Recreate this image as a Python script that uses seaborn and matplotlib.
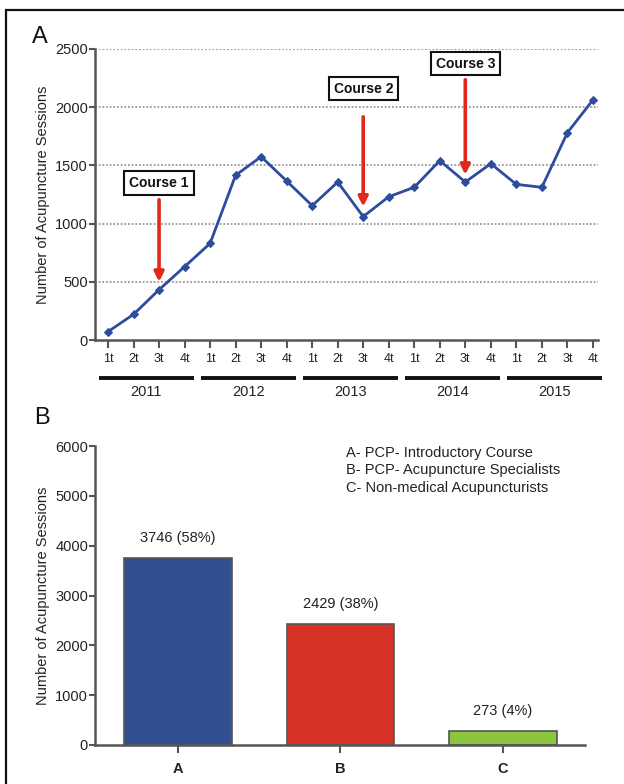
import matplotlib
matplotlib.use("Agg")
import matplotlib.pyplot as plt
import matplotlib.transforms as mtransforms
from matplotlib.patches import Rectangle
import seaborn as sns
import pandas as pd
import numpy as np

# ---- data ----
quarters = ["1t", "2t", "3t", "4t"]
years = ["2011", "2012", "2013", "2014", "2015"]
sessions = [72, 220, 432, 630,
            830, 1415, 1575, 1366,
            1154, 1357, 1060, 1231,
            1312, 1541, 1357, 1515,
            1337, 1312, 1781, 2062]
course_labels = ["Course 1", "Course 2", "Course 3"]
course_index = [2, 10, 14]
course_arrow_top = [1205, 1917, 2236]
course_arrow_tip = [500, 1146, 1420]
course_box_y = [1350, 2160, 2375]

groups = ["A", "B", "C"]
group_values = [3746, 2429, 273]
group_labels = ["3746 (58%)", "2429 (38%)", "273 (4%)"]
group_names = ["A- PCP- Introductory Course",
               "B- PCP- Acupuncture Specialists",
               "C- Non-medical Acupuncturists"]
group_colors = ["#324F92", "#D63226", "#8CC63F"]

sns.set_style("ticks")
plt.rcParams["font.family"] = ["Liberation Sans", "DejaVu Sans"]

W, H = 624, 784
fig = plt.figure(figsize=(W / 100, H / 100), dpi=100)

def ax_rect(l, r, t, b):
    return [l / W, 1 - b / H, (r - l) / W, (b - t) / H]

spine_col = "#555555"
text_col = "#222222"

# ---- Panel A ----
axA = fig.add_axes(ax_rect(95, 598, 49, 340))
dfA = pd.DataFrame({"idx": np.arange(len(sessions)), "sessions": sessions})
sns.lineplot(data=dfA, x="idx", y="sessions", ax=axA, color="#2E4C9E",
             marker="D", markersize=4.5, markeredgecolor="#2E4C9E", lw=2.0)
axA.set_xlim(-0.51, 19.2)
axA.set_ylim(0, 2500)
axA.set_yticks([0, 500, 1000, 1500, 2000, 2500])
axA.set_xticks(np.arange(len(sessions)))
axA.set_xticklabels(quarters * len(years))
for yv in [500, 1000, 1500, 2000, 2500]:
    axA.axhline(yv, color="#888888", lw=1.1, ls=(0, (1.2, 1.2)), zorder=0)
axA.set_xlabel("")
axA.set_ylabel("Number of Acupuncture Sessions", fontsize=10.5, color=text_col, labelpad=4)
for s in ["top", "right"]:
    axA.spines[s].set_visible(False)
for s in ["left", "bottom"]:
    axA.spines[s].set_color(spine_col)
    axA.spines[s].set_linewidth(1.8)
axA.tick_params(axis="x", colors=spine_col, labelcolor=text_col, labelsize=9, length=6, width=1.5, pad=3)
axA.tick_params(axis="y", colors=spine_col, labelcolor=text_col, labelsize=10.5, length=4, width=1.5, pad=1)

trA = mtransforms.blended_transform_factory(axA.transData, axA.transAxes)
for i, yr in enumerate(years):
    x0 = i * 4 - 0.35
    x1 = i * 4 + 3.35
    axA.plot([x0, x1], [-0.13, -0.13], transform=trA, color="#111111", lw=2.8,
             clip_on=False, solid_capstyle="butt")
    axA.text(i * 4 + 1.5, -0.18, yr, transform=trA, ha="center", va="center",
             fontsize=10.5, color=text_col)

for lab, xi, ytop, ytip, yb in zip(course_labels, course_index, course_arrow_top,
                                    course_arrow_tip, course_box_y):
    axA.annotate("", xy=(xi, ytip), xytext=(xi, ytop),
                 arrowprops=dict(arrowstyle="-|>", color="#E0281C", lw=2.6,
                                 mutation_scale=14, shrinkA=0, shrinkB=0))
    axA.text(xi, yb, lab, ha="center", va="center", fontsize=10, fontweight="bold",
             color="#111111",
             bbox=dict(boxstyle="square,pad=0.35", facecolor="white",
                       edgecolor="#111111", lw=1.5))

fig.text(40 / W, 1 - 37 / H, "A", fontsize=17, ha="center", va="center", color="#111111")

# ---- Panel B ----
axB = fig.add_axes(ax_rect(95, 585, 446, 745))
dfB = pd.DataFrame({"group": groups, "value": group_values})
sns.barplot(data=dfB, x="group", y="value", hue="group", palette=group_colors,
            ax=axB, width=0.66, edgecolor="#555555", linewidth=1.2, legend=False,
            saturation=1)
axB.set_xlim(-0.51, 2.505)
axB.set_ylim(0, 6000)
axB.set_yticks([0, 1000, 2000, 3000, 4000, 5000, 6000])
axB.set_xlabel("")
axB.set_ylabel("Number of Acupuncture Sessions", fontsize=10.5, color=text_col, labelpad=4)
for s in ["top", "right"]:
    axB.spines[s].set_visible(False)
for s in ["left", "bottom"]:
    axB.spines[s].set_color(spine_col)
    axB.spines[s].set_linewidth(1.8)
axB.tick_params(axis="x", colors=spine_col, labelcolor=text_col, labelsize=10.5, length=6, width=1.5, pad=6)
axB.tick_params(axis="y", colors=spine_col, labelcolor=text_col, labelsize=10.5, length=4, width=1.5, pad=1)
for t in axB.get_xticklabels():
    t.set_fontweight("bold")
for i, (v, lab) in enumerate(zip(group_values, group_labels)):
    axB.text(i, v + 260, lab, ha="center", va="bottom", fontsize=10.5, color=text_col)
axB.text(0.512, 1.0, "\n".join(group_names), transform=axB.transAxes, ha="left", va="top",
         fontsize=10.5, color=text_col, linespacing=1.3)

fig.text(42 / W, 1 - 418 / H, "B", fontsize=17, ha="center", va="center", color="#111111")

# outer frame (cut off at right and bottom)
fig.patches.append(Rectangle((6 / W, -0.1), 2, 1 - 10 / H + 0.1, transform=fig.transFigure,
                             fill=False, edgecolor="#111111", lw=1.6))

fig.savefig("out.png", dpi=100)
